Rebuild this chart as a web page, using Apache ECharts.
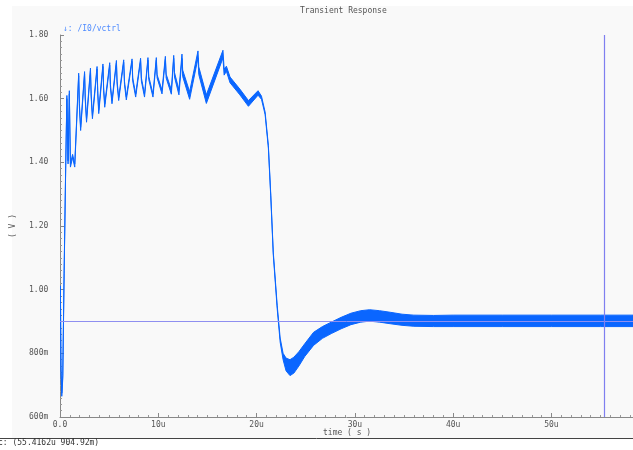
<!DOCTYPE html>
<html>
<head>
<meta charset="utf-8">
<style>
  html, body { margin: 0; padding: 0; background: #ffffff; }
  #chart { width: 633px; height: 450px; }
</style>
<script src="https://cdn.jsdelivr.net/npm/echarts@6/dist/echarts.min.js"></script>
</head>
<body>
<div id="chart"></div>
<script>
// /I0/vctrl transient: time in microseconds, ripple band as lower / upper envelope in volts
const timeUs = [
  0.00, 0.04, 0.10, 0.18, 0.28, 0.42, 0.58, 0.70, 0.82, 0.95,
  1.06, 1.28, 1.50, 1.90, 1.97, 2.10, 2.50, 2.57, 2.70, 3.10,
  3.17, 3.30, 3.77, 3.84, 3.94, 4.37, 4.44, 4.55, 5.06, 5.13,
  5.29, 5.74, 5.81, 5.97, 6.48, 6.56, 6.75, 7.33, 7.40, 7.70,
  8.20, 8.28, 8.60, 8.95, 9.03, 9.46, 9.80, 9.88, 10.38, 10.72,
  10.80, 11.33, 11.57, 11.65, 12.10, 12.41, 12.48, 13.19, 14.04, 14.12,
  14.89, 16.58, 16.70, 16.93, 17.30, 18.30, 19.17, 20.15, 20.50, 20.87,
  21.20, 21.45, 21.70, 22.10, 22.40, 22.70, 23.00, 23.40, 23.80, 24.30,
  24.90, 25.80, 26.70, 27.60, 28.60, 29.60, 30.60, 31.50, 32.50, 33.60,
  34.80, 36.00, 38.00, 40.00, 45.00, 50.00, 55.00, 58.30
];
const vLower = [
  0.895, 1.000, 0.750, 0.665, 0.720, 1.050, 1.380, 1.600, 1.395, 1.615,
  1.385, 1.415, 1.385, 1.672, 1.575, 1.500, 1.677, 1.595, 1.526, 1.688,
  1.605, 1.537, 1.693, 1.615, 1.553, 1.701, 1.625, 1.573, 1.705, 1.635,
  1.584, 1.712, 1.645, 1.594, 1.714, 1.645, 1.596, 1.717, 1.655, 1.605,
  1.719, 1.655, 1.605, 1.721, 1.660, 1.605, 1.721, 1.665, 1.615, 1.724,
  1.665, 1.614, 1.727, 1.668, 1.612, 1.726, 1.670, 1.598, 1.728, 1.676,
  1.585, 1.728, 1.674, 1.686, 1.650, 1.612, 1.576, 1.611, 1.598, 1.550,
  1.445, 1.288, 1.110, 0.940, 0.835, 0.780, 0.745, 0.730, 0.738, 0.760,
  0.790, 0.825, 0.847, 0.862, 0.877, 0.890, 0.898, 0.901, 0.898, 0.893,
  0.888, 0.885, 0.884, 0.884, 0.884, 0.884, 0.884, 0.884
];
const vUpper = [
  0.905, 1.012, 0.760, 0.675, 0.730, 1.060, 1.390, 1.610, 1.405, 1.625,
  1.395, 1.425, 1.395, 1.680, 1.585, 1.510, 1.685, 1.605, 1.536, 1.696,
  1.615, 1.547, 1.701, 1.625, 1.563, 1.709, 1.635, 1.583, 1.713, 1.645,
  1.594, 1.720, 1.655, 1.604, 1.722, 1.655, 1.606, 1.725, 1.665, 1.615,
  1.727, 1.665, 1.615, 1.729, 1.670, 1.615, 1.729, 1.675, 1.627, 1.733,
  1.677, 1.628, 1.736, 1.682, 1.628, 1.740, 1.690, 1.622, 1.750, 1.700,
  1.612, 1.752, 1.693, 1.702, 1.668, 1.630, 1.594, 1.625, 1.608, 1.558,
  1.453, 1.296, 1.118, 0.950, 0.848, 0.800, 0.785, 0.780, 0.788, 0.805,
  0.830, 0.866, 0.884, 0.898, 0.913, 0.926, 0.934, 0.937, 0.934, 0.929,
  0.923, 0.920, 0.919, 0.920, 0.920, 0.920, 0.920, 0.920
];

// axis tick text and markers
const xTickText = ['0.0', '10u', '20u', '30u', '40u', '50u'];
const yTickText = ['600m', '800m', '1.00', '1.20', '1.40', '1.60', '1.80'];
const cursorTimeUs = 55.4162;
const cursorVolts = 0.90492;
const refLevelV = 0.9;
const traceName = '/I0/vctrl';
const titleText = 'Transient Response';
const xAxisTitle = 'time ( s )';

const FONT = '"DejaVu Sans Mono", "Liberation Mono", monospace';
const TRACE = '#0a66ff';
const TEXT = '#555555';

// ripple band: closed outline along the upper envelope and back along the lower one
function renderBand(params, api) {
  const pts = [];
  for (let i = 0; i < timeUs.length; i++) pts.push(api.coord([timeUs[i], vUpper[i]]));
  for (let i = timeUs.length - 1; i >= 0; i--) pts.push(api.coord([timeUs[i], vLower[i]]));
  return {
    type: 'polygon',
    shape: { points: pts },
    style: { fill: TRACE, stroke: TRACE, lineWidth: 1, lineJoin: 'round' },
    clipPath: {
      type: 'rect',
      shape: { x: params.coordSys.x, y: params.coordSys.y,
               width: params.coordSys.width, height: params.coordSys.height }
    }
  };
}

const chart = echarts.init(document.getElementById('chart'), null, { renderer: 'canvas' });

chart.setOption({
  animation: false,
  backgroundColor: '#ffffff',
  textStyle: { fontFamily: FONT },
  grid: { left: 60, right: 0, top: 35, bottom: 33, containLabel: false },
  graphic: [
    { type: 'rect', z: -10, silent: true,
      shape: { x: 12, y: 6, width: 621, height: 432 },
      style: { fill: '#f9f9f9' } },
    { type: 'line', z: 10, silent: true,
      shape: { x1: 0, y1: 438.5, x2: 633, y2: 438.5 },
      style: { stroke: '#444444', lineWidth: 1 } },
    { type: 'text', z: 10, silent: true, left: 300, top: 7,
      style: { text: titleText, font: '8px ' + FONT, fill: TEXT } },
    { type: 'text', z: 10, silent: true, left: 323, top: 429,
      style: { text: xAxisTitle, font: '8px ' + FONT, fill: TEXT } },
    { type: 'text', z: 10, silent: true, left: 63, top: 25,
      style: { text: '\u2193: ' + traceName, font: '8px ' + FONT, fill: '#4f8cff' } },
    { type: 'text', z: 10, silent: true, left: -2, top: 439,
      style: { text: 'c: (' + cursorTimeUs + 'u ' + (cursorVolts * 1000).toFixed(2) + 'm)',
               font: '8px ' + FONT, fill: '#333333' } }
  ],
  xAxis: {
    type: 'value', min: 0, max: 58.3, interval: 10,
    axisLine: { show: true, lineStyle: { color: '#888888', width: 1 } },
    axisTick: { show: true, inside: true, length: 4, lineStyle: { color: '#888888' } },
    minorTick: { show: true, splitNumber: 10, length: 2, lineStyle: { color: '#999999' } },
    splitLine: { show: false },
    axisLabel: { fontSize: 8, color: TEXT, fontFamily: FONT, margin: 4,
      showMaxLabel: false,
      formatter: (v, i) => xTickText[i] !== undefined ? xTickText[i] : '' }
  },
  yAxis: {
    type: 'value', min: 0.6, max: 1.8, interval: 0.2,
    name: '( V )', nameLocation: 'middle', nameGap: 43, nameRotate: 90,
    nameTextStyle: { fontSize: 8, color: TEXT, fontFamily: FONT },
    axisLine: { show: true, lineStyle: { color: '#888888', width: 1 } },
    axisTick: { show: true, inside: true, length: 4, lineStyle: { color: '#888888' } },
    minorTick: { show: true, splitNumber: 10, length: 2, lineStyle: { color: '#999999' } },
    splitLine: { show: false },
    axisLabel: { fontSize: 8, color: TEXT, fontFamily: FONT, margin: 31, align: 'left',
      padding: [0, 0, 3, 0],
      formatter: (v, i) => yTickText[i] !== undefined ? yTickText[i] : '' }
  },
  series: [
    {
      // reference level, drawn beneath the trace
      type: 'line', data: [], z: 1, silent: true,
      markLine: {
        silent: true, symbol: 'none', animation: false, label: { show: false },
        lineStyle: { color: '#8f8ff0', width: 1, type: 'solid' },
        data: [{ yAxis: refLevelV }]
      }
    },
    {
      name: traceName, type: 'custom', z: 2, silent: true,
      renderItem: renderBand,
      data: [[timeUs[0], vLower[0]]]
    },
    {
      // vertical cursor, drawn over the trace
      type: 'line', data: [], z: 3, silent: true,
      markLine: {
        silent: true, symbol: 'none', animation: false, label: { show: false },
        lineStyle: { color: '#7f7ff0', width: 1.2, type: 'solid' },
        data: [{ xAxis: cursorTimeUs }]
      }
    }
  ]
});
</script>
</body>
</html>
